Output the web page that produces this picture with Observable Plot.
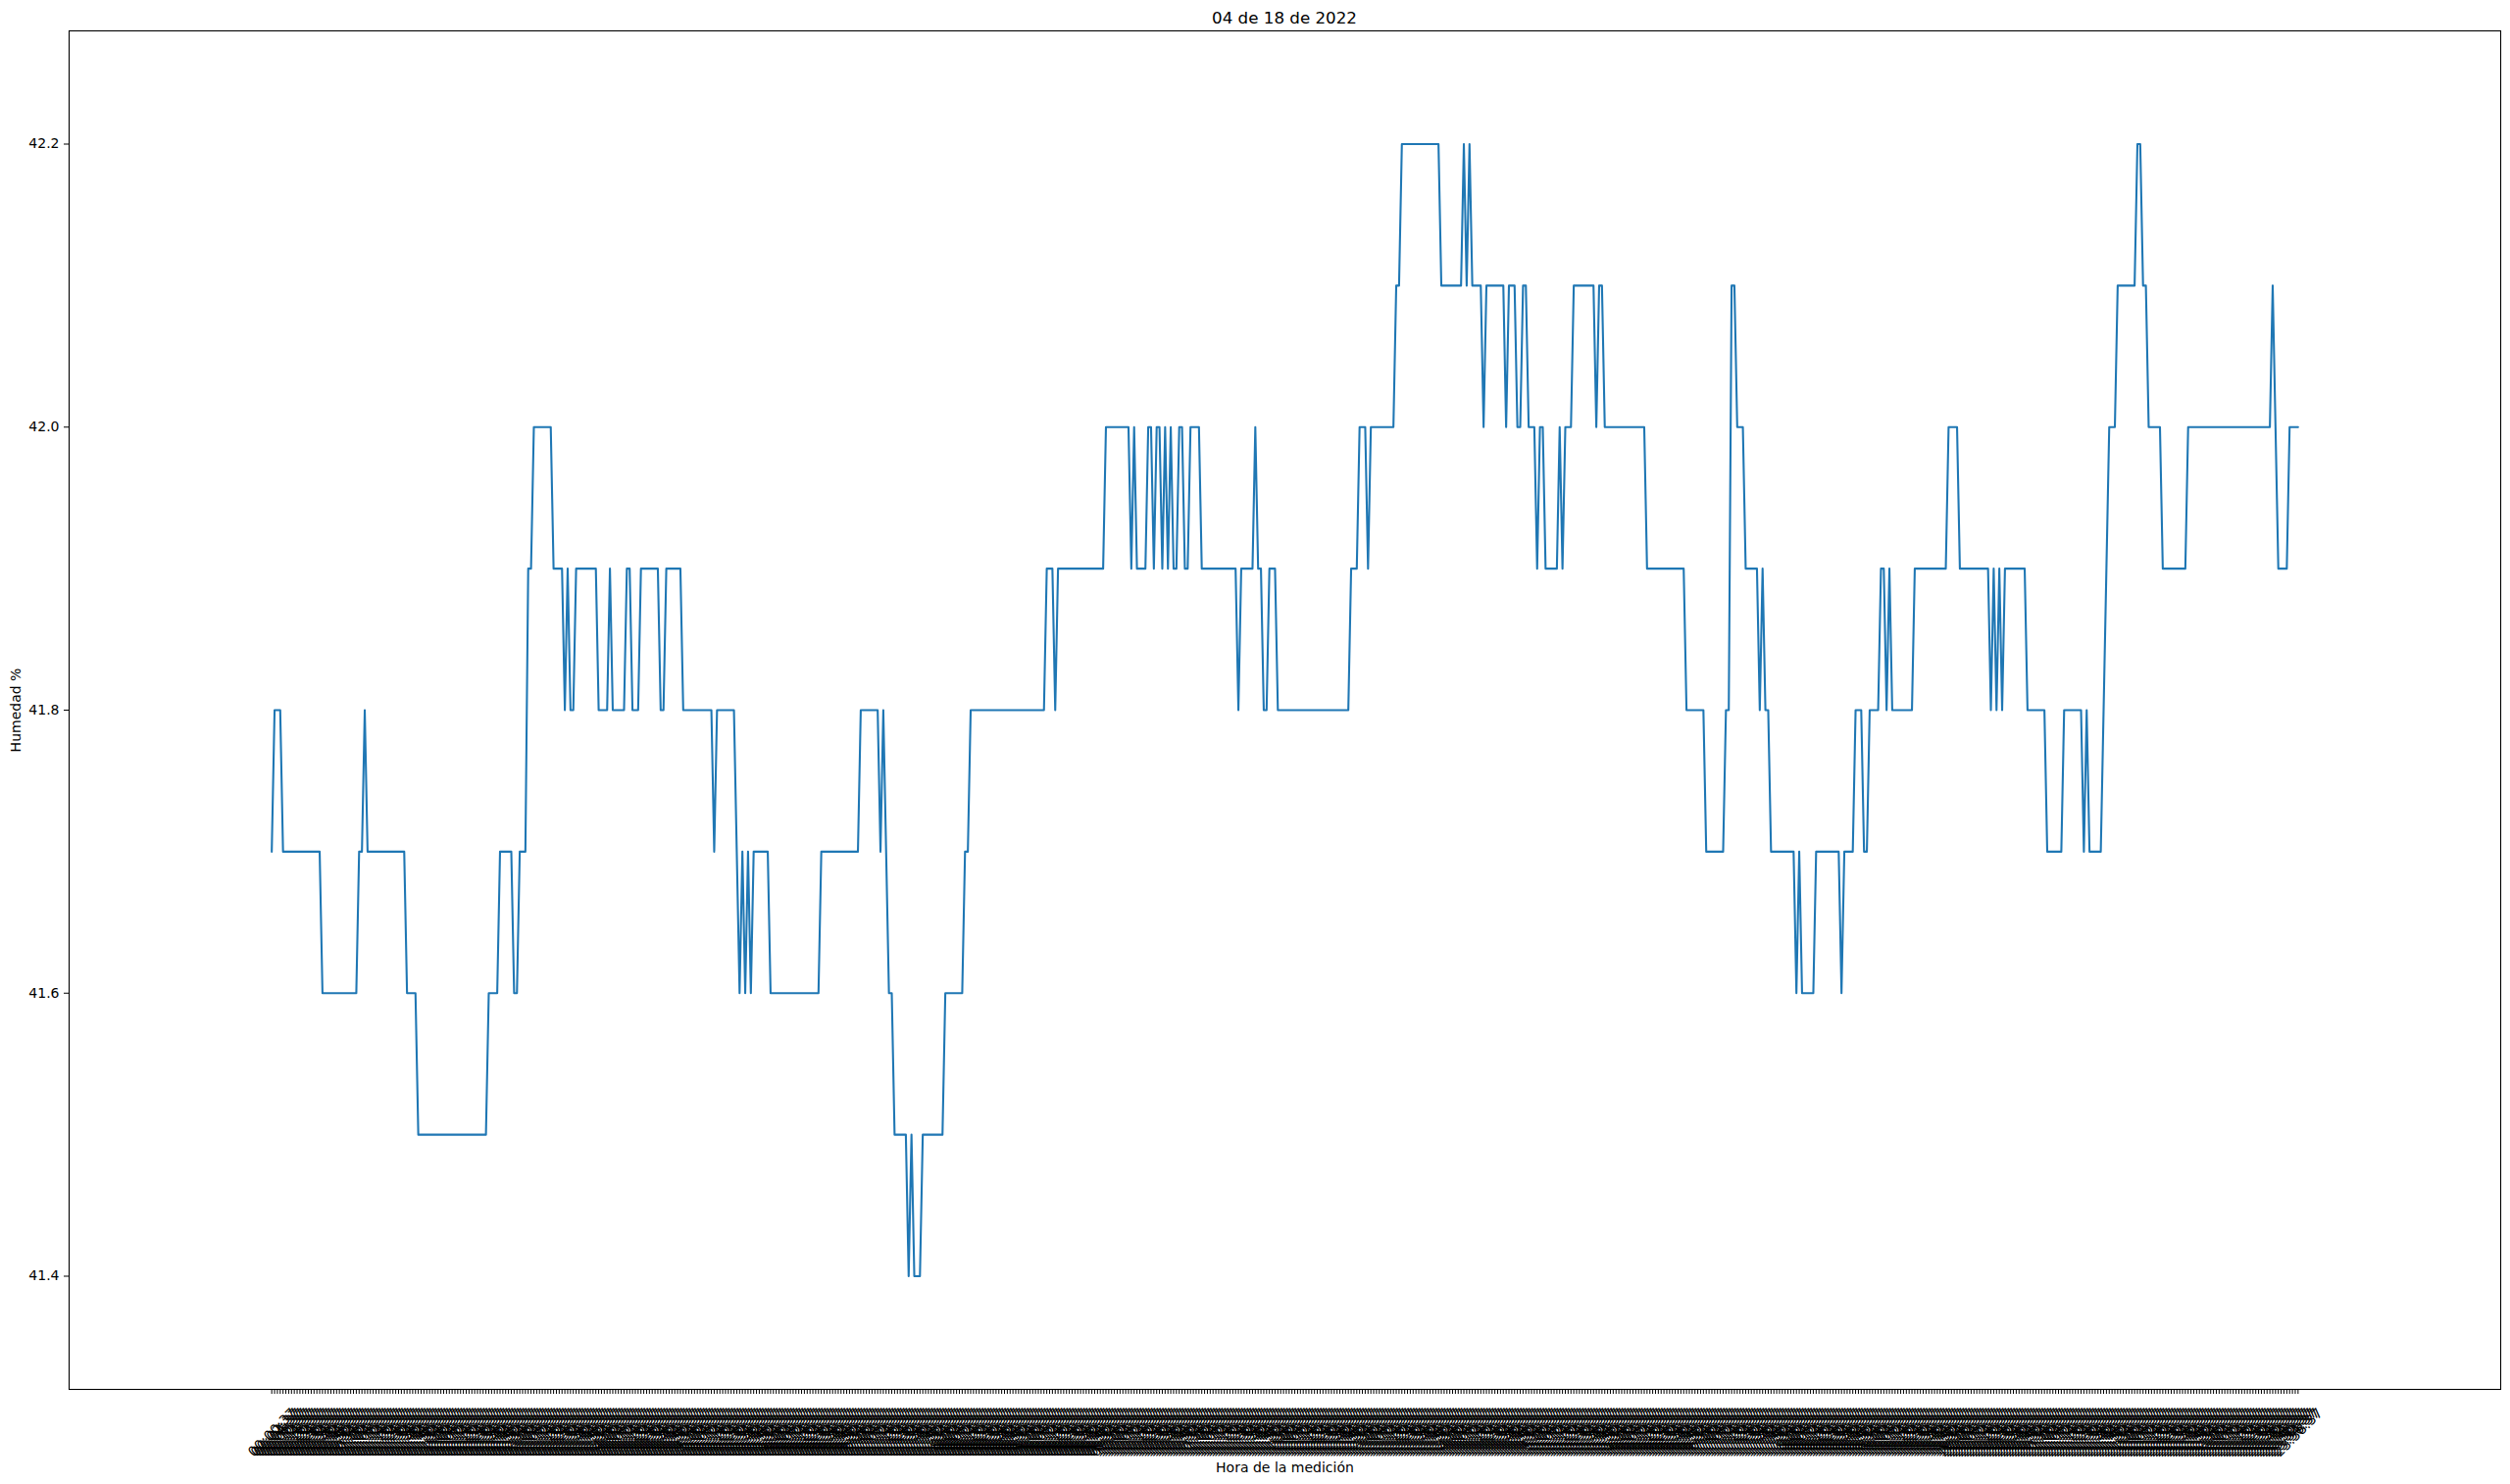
<!DOCTYPE html>
<html><head><meta charset="utf-8">
<script src="https://cdn.jsdelivr.net/npm/d3@7"></script>
<script src="https://cdn.jsdelivr.net/npm/@observablehq/plot@0.6"></script>
<style>
html,body{margin:0;padding:0;background:#fff;}
#title{height:26px;width:2560px;box-sizing:border-box;padding-left:60px;text-align:center;font-family:"DejaVu Sans";font-size:16.7px;line-height:36px;color:#000;white-space:nowrap;}
#chart{width:2560px;height:1488px;}
</style></head><body>
<div id="title">04 de 18 de 2022</div>
<div id="chart"></div>
<script>
// Humidity readings, stored as runs of equal consecutive readings (value, number of readings)
const runValues = [
  41.7,41.8,41.7,41.6,41.7,41.8,41.7,41.6,41.5,41.6,
  41.7,41.6,41.7,41.9,42.0,41.9,41.8,41.9,41.8,41.9,
  41.8,41.9,41.8,41.9,41.8,41.9,41.8,41.9,41.8,41.7,
  41.8,41.7,41.6,41.7,41.6,41.7,41.6,41.7,41.6,41.7,
  41.8,41.7,41.8,41.7,41.6,41.5,41.4,41.5,41.4,41.5,
  41.6,41.7,41.8,41.9,41.8,41.9,42.0,41.9,42.0,41.9,
  42.0,41.9,42.0,41.9,42.0,41.9,42.0,41.9,42.0,41.9,
  42.0,41.9,41.8,41.9,42.0,41.9,41.8,41.9,41.8,41.9,
  42.0,41.9,42.0,42.1,42.2,42.1,42.2,42.1,42.2,42.1,
  42.0,42.1,42.0,42.1,42.0,42.1,42.0,41.9,42.0,41.9,
  42.0,41.9,42.0,42.1,42.0,42.1,42.0,41.9,41.8,41.7,
  41.8,42.1,42.0,41.9,41.8,
  41.9,41.8,41.7,41.6,41.7,41.6,41.7,41.6,41.7,41.8,
  41.7,41.8,41.9,41.8,41.9,41.8,41.9,42.0,41.9,41.8,
  41.9,41.8,41.9,41.8,41.9,41.8,41.7,41.8,41.7,41.8,
  41.7,41.8,41.9,42.0,42.1,42.2,42.1,42.0,41.9,42.0,
  42.1,42.0,41.9,42.0
];
const runLengths = [
  1,3,14,13,2,1,14,4,25,4,
  5,2,3,2,7,4,1,1,2,8,
  4,1,5,2,3,7,2,6,11,1,
  7,1,1,1,1,1,1,6,18,14,
  7,1,1,1,2,5,1,1,3,8,
  7,2,27,3,1,17,9,1,1,4,
  2,1,2,1,1,1,1,2,2,2,
  4,13,1,5,1,2,2,3,26,3,
  3,1,9,2,14,8,1,1,1,4,
  1,7,1,3,2,2,3,1,2,5,
  1,1,3,8,1,2,15,14,7,7,
  2,2,3,5,1,
  1,2,9,1,1,5,9,1,4,3,
  2,4,2,1,1,8,12,4,11,1,
  1,1,1,1,8,7,6,7,1,1,
  5,1,1,3,7,2,2,5,9,30,
  1,1,4,4
];
const yTicks = [41.4, 41.6, 41.8, 42.0, 42.2];
const firstReading = "00:00:37";   // time of first reading
const readingStepSeconds = 120;    // one reading every two minutes

const humidity = runValues.flatMap((v, k) => Array(runLengths[k]).fill(v));
const N = humidity.length;
const idx = d3.range(N);
const [h0, m0, s0] = firstReading.split(":").map(Number);
const pad = n => String(n).padStart(2, "0");
const tickLabels = idx.map(i => {
  const t = (h0 * 3600 + m0 * 60 + s0 + i * readingStepSeconds) % 86400;
  return `${pad(Math.floor(t / 3600))}:${pad(Math.floor(t / 60) % 60)}:${pad(t % 60)}`;
});

const chart = Plot.plot({
  width: 2560, height: 1488,
  marginLeft: 70, marginRight: 10, marginTop: 5, marginBottom: 97,
  x: {type: "linear", domain: [-0.1 * (N - 1), 1.1 * (N - 1)], axis: null},
  y: {domain: [41.32, 42.28], axis: null},
  style: {fontFamily: "DejaVu Sans", fontSize: "14px", color: "black", background: "white"},
  marks: [
    Plot.axisY({ticks: yTicks, tickFormat: d => d.toFixed(1), tickSize: 5, tickPadding: 5, fontSize: 14, label: null}),
    Plot.axisX({ticks: idx, tickSize: 5, tickFormat: () => "", label: null, strokeWidth: 1}),
    Plot.text(idx, {x: d => d, frameAnchor: "bottom", text: d => tickLabels[d], rotate: -45, textAnchor: "end", dx: 26, dy: 25, fontSize: 14}),
    Plot.line(idx, {x: d => d, y: d => humidity[d], stroke: "#1f77b4", strokeWidth: 2.08}),
    Plot.frame({stroke: "black", strokeWidth: 1.1}),
    Plot.text(["Humedad %"], {frameAnchor: "left", textAnchor: "middle", rotate: -90, dx: -54, text: d => d, fontSize: 14}),
    Plot.text(["Hora de la medición"], {frameAnchor: "bottom", textAnchor: "middle", dy: 84, text: d => d, fontSize: 14})
  ]
});
document.getElementById("chart").appendChild(chart);
</script>
</body></html>
